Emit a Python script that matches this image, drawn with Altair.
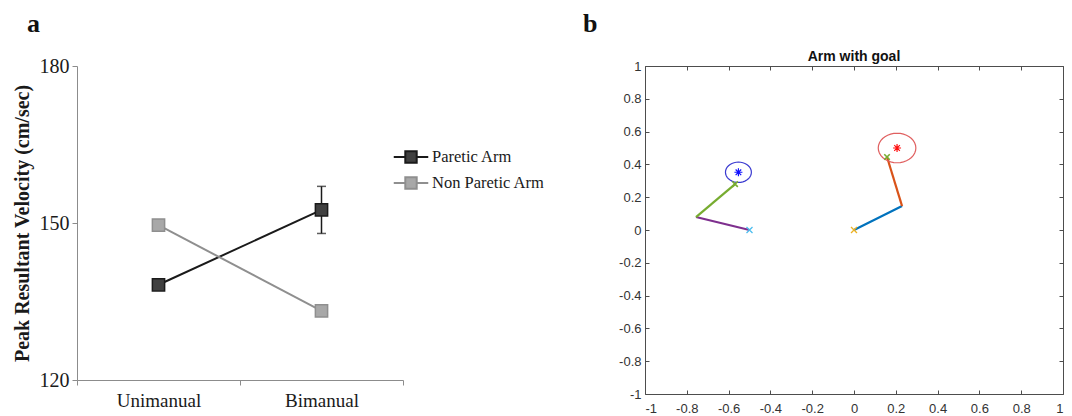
import altair as alt
import pandas as pd

# ---------------- Panel a data ----------------
conditions = ["Unimanual", "Bimanual"]
groups = ["Paretic Arm", "Non Paretic Arm"]
paretic = [138.2, 152.5]
paretic_err = [0.0, 4.5]
non_paretic = [149.6, 133.2]
y_ticks_a = [120, 150, 180]
stroke_colors = ["#1a1a1a", "#8f8f8f"]
fill_colors = ["#404040", "#a8a8a8"]

# ---------------- Panel b data ----------------
seg_name = ["left upper", "left fore", "right upper", "right fore"]
seg_x = [-0.5, -0.756, 0.0, 0.23]
seg_y = [0.0, 0.079, 0.0, 0.146]
seg_x2 = [-0.756, -0.569, 0.23, 0.158]
seg_y2 = [0.079, 0.28, 0.146, 0.445]
seg_color = ["#7E2F8E", "#77AC30", "#0072BD", "#D95319"]

goal_name = ["left goal", "right goal"]
goal_x = [-0.553, 0.206]
goal_y = [0.352, 0.50]
goal_r = [0.062, 0.09]
goal_circle_color = ["#3a3ad0", "#e06060"]
goal_star_color = ["#1010ff", "#ff1010"]
circle_angles = list(range(0, 361, 10))

base_x = [-0.5, 0.0]
base_y = [0.0, 0.0]
base_color = ["#4DBEEE", "#EDB120"]
hand_x = [-0.569, 0.158]
hand_y = [0.28, 0.445]
hand_color = ["#77AC30", "#77AC30"]

b_ticks = [-1, -0.8, -0.6, -0.4, -0.2, 0, 0.2, 0.4, 0.6, 0.8, 1]

serif = "Liberation Serif"
sans = "Liberation Sans"

# ================= Panel a =================
df_a = pd.DataFrame({
    "condition": conditions + conditions,
    "group": [groups[0]] * 2 + [groups[1]] * 2,
    "value": paretic + non_paretic,
    "err": paretic_err + [0.0, 0.0],
})
df_a["lo"] = df_a["value"] - df_a["err"]
df_a["hi"] = df_a["value"] + df_a["err"]
df_err = df_a[df_a["err"] > 0]

legend_path = "M-1.15,0H-0.38M0.38,0H1.15M-0.38,-0.38H0.38V0.38H-0.38Z"
leg = alt.Legend(title=None, orient="none", legendX=318, legendY=75,
                 symbolType=legend_path, symbolSize=900, symbolStrokeWidth=2,
                 labelFont=serif, labelFontSize=16.5, labelColor="#1a1a1a",
                 labelOffset=5, rowPadding=0, symbolOpacity=1)

x_a = alt.X("condition:N", sort=conditions,
            scale=alt.Scale(type="band", paddingInner=0, paddingOuter=0),
            axis=alt.Axis(title=None, labelAngle=0, tickBand="extent",
                          domainColor="#8c8c8c", tickColor="#8c8c8c", tickSize=5,
                          labelFont=serif, labelFontSize=19, labelColor="#1a1a1a",
                          labelPadding=6, grid=False))
y_a = alt.Y("value:Q", scale=alt.Scale(domain=[120, 180], nice=False, zero=False),
            axis=alt.Axis(title="Peak Resultant Velocity (cm/sec)", values=y_ticks_a,
                          grid=False, domainColor="#8c8c8c", tickColor="#8c8c8c",
                          tickSize=5, labelFont=serif, labelFontSize=20,
                          labelColor="#1a1a1a", labelPadding=3,
                          titleFont=serif, titleFontSize=20, titleFontWeight="bold",
                          titleColor="#1a1a1a", titleX=-45, titleY=157,
                          titleAngle=270, titleBaseline="bottom", titleAlign="center"))
stroke_a = alt.Stroke("group:N", sort=groups,
                      scale=alt.Scale(domain=groups, range=stroke_colors), legend=leg)
fill_a = alt.Fill("group:N", sort=groups,
                  scale=alt.Scale(domain=groups, range=fill_colors), legend=leg)

base_a = alt.Chart(df_a)
lines_a = base_a.mark_line(strokeWidth=2).encode(x=x_a, y=y_a, stroke=stroke_a)
err_rule = alt.Chart(df_err).mark_rule(color="#1a1a1a", strokeWidth=1.5).encode(
    x=x_a, y=alt.Y("lo:Q"), y2="hi:Q")
err_lo = alt.Chart(df_err).mark_tick(color="#1a1a1a", thickness=1.5, size=9).encode(
    x=x_a, y=alt.Y("lo:Q"))
err_hi = alt.Chart(df_err).mark_tick(color="#1a1a1a", thickness=1.5, size=9).encode(
    x=x_a, y=alt.Y("hi:Q"))
points_a = base_a.mark_point(shape="square", filled=True, size=150, strokeWidth=1.5,
                             opacity=1).encode(x=x_a, y=y_a, stroke=stroke_a, fill=fill_a)
label_a = alt.Chart(pd.DataFrame({"t": ["a"]})).mark_text(
    font=serif, fontSize=26, fontWeight="bold", align="left", baseline="alphabetic",
    color="#111111").encode(text="t:N", x=alt.value(-50), y=alt.value(-34))

panel_a = alt.layer(lines_a, err_rule, err_lo, err_hi, points_a, label_a).properties(
    width=326, height=314, view=alt.ViewBackground(strokeOpacity=0))

# ================= Panel b =================
df_seg = pd.DataFrame({"name": seg_name, "x": seg_x, "y": seg_y,
                       "x2": seg_x2, "y2": seg_y2, "color": seg_color})
df_goal = pd.DataFrame({"goal": goal_name, "gx": goal_x, "gy": goal_y, "r": goal_r,
                        "ccolor": goal_circle_color, "scolor": goal_star_color,
                        "angle": [circle_angles] * len(goal_name)})
df_base = pd.DataFrame({"x": base_x, "y": base_y, "color": base_color})
df_hand = pd.DataFrame({"x": hand_x, "y": hand_y, "color": hand_color})

axis_color = "#4d4d4d"
common_axis = dict(values=b_ticks, grid=False, domain=False, offset=-4, tickSize=4,
                   tickColor=axis_color, labelFont=sans, labelFontSize=13,
                   labelColor="#333333", title=None,
                   labelExpr="'' + datum.value")
sx = alt.Scale(domain=[-1, 1], nice=False, zero=False)
sy = alt.Scale(domain=[-1, 1], nice=False, zero=False)

x_b = alt.X("x:Q", scale=sx, axis=alt.Axis(orient="bottom", labelPadding=8, **common_axis))
y_b = alt.Y("y:Q", scale=sy, axis=alt.Axis(orient="left", labelPadding=4, **common_axis))

segs = alt.Chart(df_seg).mark_rule(strokeWidth=2.2).encode(
    x=x_b, y=y_b, x2="x2:Q", y2="y2:Q", color=alt.Color("color:N", scale=None))

circles = alt.Chart(df_goal).transform_flatten(["angle"]).transform_calculate(
    cx="datum.gx + datum.r * cos(datum.angle * PI / 180)",
    cy="datum.gy + datum.r * sin(datum.angle * PI / 180)",
).mark_line(strokeWidth=1.2).encode(
    x=alt.X("cx:Q", scale=sx, axis=None), y=alt.Y("cy:Q", scale=sy, axis=None),
    detail="goal:N", order="angle:Q", color=alt.Color("ccolor:N", scale=None))

star_path = "M-1,0H1M0,-1V1M-0.7,-0.7L0.7,0.7M-0.7,0.7L0.7,-0.7"
stars = alt.Chart(df_goal).mark_point(shape=star_path, size=64, strokeWidth=1.2,
                                      filled=False, opacity=1).encode(
    x=alt.X("gx:Q", scale=sx, axis=None), y=alt.Y("gy:Q", scale=sy, axis=None),
    stroke=alt.Stroke("scolor:N", scale=None))

x_path = "M-1,-1L1,1M-1,1L1,-1"
bases = alt.Chart(df_base).mark_point(shape=x_path, size=36, strokeWidth=1.3,
                                      filled=False, opacity=1).encode(
    x=alt.X("x:Q", scale=sx, axis=None), y=alt.Y("y:Q", scale=sy, axis=None),
    stroke=alt.Stroke("color:N", scale=None))
hands = alt.Chart(df_hand).mark_point(shape=x_path, size=30, strokeWidth=1.6,
                                      filled=False, opacity=1).encode(
    x=alt.X("x:Q", scale=sx, axis=None), y=alt.Y("y:Q", scale=sy, axis=None),
    stroke=alt.Stroke("color:N", scale=None))

tick_axis = dict(values=b_ticks, grid=False, domain=False, offset=-4, tickSize=4,
                 tickColor=axis_color, labels=False, title=None)
frame_ticks = alt.Chart(df_base).mark_point(opacity=0).encode(
    x=alt.X("x:Q", scale=sx, axis=alt.Axis(orient="top", **tick_axis)),
    y=alt.Y("y:Q", scale=sy, axis=alt.Axis(orient="right", **tick_axis)))

title_b = alt.Chart(pd.DataFrame({"t": ["Arm with goal"]})).mark_text(
    font=sans, fontSize=14, fontWeight="bold", align="center", baseline="alphabetic",
    color="#111111").encode(text="t:N", x=alt.value(209), y=alt.value(-5))
label_b = alt.Chart(pd.DataFrame({"t": ["b"]})).mark_text(
    font=serif, fontSize=26, fontWeight="bold", align="left", baseline="alphabetic",
    color="#111111").encode(text="t:N", x=alt.value(-62), y=alt.value(-34))

panel_b = alt.layer(segs, circles, stars, bases, hands, frame_ticks, title_b, label_b
                    ).resolve_axis(x="independent", y="independent").properties(
    width=418, height=328,
    view=alt.ViewBackground(stroke=axis_color, strokeWidth=1))

chart = alt.hconcat(panel_a, panel_b, spacing=242, bounds="flush").properties(
    padding={"left": 11, "top": 10, "right": 0, "bottom": 0},
    background="white")

chart.save("out.html", embed_options={"renderer": "svg", "actions": False})
